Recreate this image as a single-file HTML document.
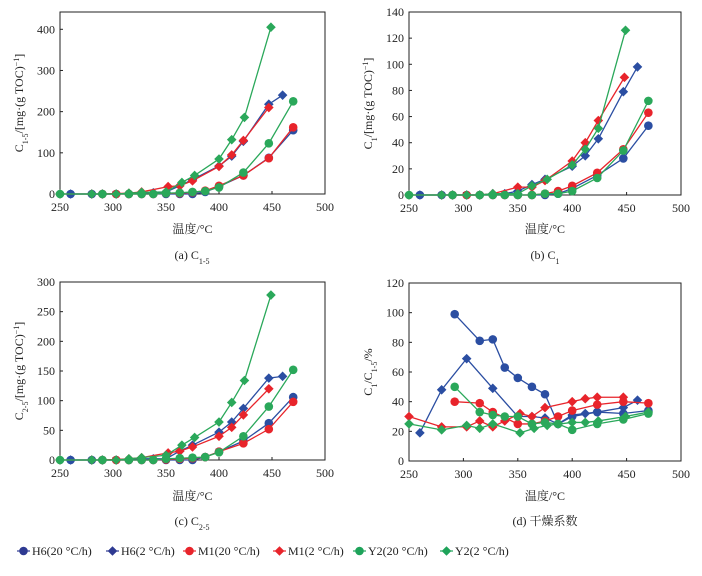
<!DOCTYPE html>
<html><head><meta charset="utf-8"><style>
html,body{margin:0;padding:0;background:#fff;}
svg{display:block;font-family:"Liberation Serif","Noto Serif CJK SC",serif;}
</style></head><body>
<svg id="fig" width="702" height="576" viewBox="0 0 702 576"></svg>
<script>
// Shared x-axis temperatures
const xTicks = [250,300,350,400,450,500];
// Panel (a) C1-5
const aH6c = [[260,0],[280,0],[290,0],[303,0],[315,0],[327,0],[338,0],[350,0],[363,0],[375,0],[387,5],[400,18],[423,45],[447,88],[470,155]];
const aH6d = [[260,0],[280,0],[290,0],[303,0],[315,1],[327,2],[338,3],[350,5],[363,20],[375,35],[400,68],[412,92],[423,128],[447,218],[460,240]];
const aM1c = [[290,0],[303,0],[315,0],[327,0],[338,0],[350,2],[363,2],[375,4],[387,8],[400,20],[423,45],[447,87],[470,162]];
const aM1d = [[250,0],[280,0],[290,0],[315,2],[327,5],[352,18],[363,20],[375,32],[400,67],[412,95],[423,130],[447,210]];
const aY2c = [[250,0],[290,0],[315,0],[327,0],[338,0],[350,2],[363,3],[375,5],[387,7],[400,16],[423,52],[447,123],[470,225]];
const aY2d = [[250,0],[280,0],[290,0],[303,0],[315,2],[327,4],[350,5],[365,28],[377,45],[400,85],[412,132],[424,186],[449,405]];
const aTicks = [0,100,200,300,400];
// Panel (b) C1
const bH6c = [[260,0],[280,0],[290,0],[303,0],[315,0],[327,0],[338,0],[350,0],[363,0],[375,0],[387,1],[400,5],[423,15],[447,28],[470,53]];
const bH6d = [[260,0],[280,0],[290,0],[303,0],[315,0],[327,1],[338,1],[350,3],[363,8],[375,12],[400,22],[412,30],[424,43],[447,79],[460,98]];
const bM1c = [[290,0],[303,0],[315,0],[327,0],[338,0],[350,0],[363,0],[375,1],[387,3],[400,7],[423,17],[447,35],[470,63]];
const bM1d = [[250,0],[280,0],[290,0],[315,0],[327,1],[350,6],[363,6],[375,11],[400,26],[412,40],[424,57],[448,90]];
const bY2c = [[250,0],[290,0],[315,0],[327,0],[338,0],[350,0],[363,0],[375,1],[387,1],[400,3],[423,13],[447,34],[470,72]];
const bY2d = [[250,0],[280,0],[290,0],[303,0],[315,0],[327,1],[350,1],[363,7],[377,12],[400,23],[412,35],[424,51],[449,126]];
const bTicks = [0,20,40,60,80,100,120,140];
// Panel (c) C2-5
const cH6c = [[260,0],[280,0],[290,0],[303,0],[315,0],[327,0],[338,0],[350,0],[363,0],[375,0],[387,5],[400,14],[423,32],[447,62],[470,106]];
const cH6d = [[260,0],[280,0],[290,0],[303,0],[315,1],[327,2],[338,2],[350,2],[363,15],[375,25],[400,47],[412,64],[423,87],[447,138],[460,141]];
const cM1c = [[290,0],[303,0],[315,0],[327,0],[338,0],[350,1],[363,2],[375,3],[387,5],[400,14],[423,28],[447,52],[470,98]];
const cM1d = [[250,0],[280,0],[290,0],[315,2],[327,4],[352,12],[363,15],[375,22],[400,40],[412,55],[423,76],[447,120]];
const cY2c = [[250,0],[290,0],[315,0],[327,0],[338,0],[350,2],[363,3],[375,4],[387,5],[400,13],[423,40],[447,90],[470,152]];
const cY2d = [[250,0],[280,0],[290,0],[303,0],[315,2],[327,4],[350,8],[365,25],[377,38],[400,64],[412,97],[424,134],[449,278]];
const cTicks = [0,50,100,150,200,250,300];
// Panel (d) C1/C1-5
const dH6c = [[292,99],[315,81],[327,82],[338,63],[350,56],[363,50],[375,45],[387,25],[400,30],[423,33],[447,32],[470,34]];
const dH6d = [[260,19],[280,48],[303,69],[327,49],[350,30],[363,30],[375,29],[387,25],[400,31],[412,32],[423,33],[447,36],[460,41]];
const dM1c = [[292,40],[315,39],[327,33],[350,25],[363,25],[375,27],[387,30],[400,34],[423,38],[447,40],[470,39]];
const dM1d = [[250,30],[280,23],[303,23],[315,27],[327,23],[338,27],[352,32],[363,30],[375,36],[400,40],[412,42],[423,43],[447,43]];
const dY2c = [[292,50],[315,33],[327,31],[338,30],[350,30],[363,25],[375,26],[387,25],[400,21],[423,25],[447,28],[470,32]];
const dY2d = [[250,25],[280,21],[303,24],[315,22],[327,25],[352,19],[365,22],[377,24],[400,26],[412,26],[424,27],[449,30],[470,33]];
const dTicks = [0,20,40,60,80,100,120];
const legendLabels = ["H6(20 °C/h)","H6(2 °C/h)","M1(20 °C/h)","M1(2 °C/h)","Y2(20 °C/h)","Y2(2 °C/h)"];

const BLUE="#2b4ea2", RED="#e8242b", GREEN="#2aa85a";
const NS="http://www.w3.org/2000/svg";
const svg=document.getElementById('fig');
function mk(tag,attrs,parent){const e=document.createElementNS(NS,tag);for(const k in attrs)e.setAttribute(k,attrs[k]);(parent||svg).appendChild(e);return e;}
function marker(g,x,y,shape,color){
  let m;
  if(shape==='c'){m=mk('circle',{cx:x,cy:y,r:4.3,fill:color},g);}
  else{const s=4.8;m=mk('polygon',{points:`${x},${y-s} ${x+s},${y} ${x},${y+s} ${x-s},${y}`,fill:color},g);}
  return m;
}
function panel(id,L,R,T,B,ymax,ticks,series,ylabelHtml,xlabelY,caption,capY,capX){
  const g=mk('g',{});
  
  
  const xs=v=>L+(v-250)/250*(R-L);
  const ys=v=>B-v/ymax*(B-T);
  const box=mk('rect',{x:L,y:T,width:R-L,height:B-T,fill:'none',stroke:'#222','stroke-width':1},g);
  
  
  xTicks.forEach(t=>{
    const x=xs(t);
    mk('line',{x1:x,x2:x,y1:B,y2:B-3,stroke:'#222'},g);
    const tx=mk('text',{x:x,y:B+17,'text-anchor':'middle','font-size':12,fill:'#222'},g);
    tx.textContent=t;
    
    
  });
  ticks.forEach(t=>{
    const y=ys(t);
    mk('line',{x1:L,x2:L+3,y1:y,y2:y,stroke:'#222'},g);
    const tx=mk('text',{x:L-5,y:y+4,'text-anchor':'end','font-size':12,fill:'#222'},g);
    tx.textContent=t;
    
    
  });
  series.forEach(([data,shape,color,name])=>{
    const sg=mk('g',{},g);
    
    
    mk('polyline',{points:data.map(p=>xs(p[0])+','+ys(p[1])).join(' '),fill:'none',stroke:color,'stroke-width':1.3},sg);
    data.forEach(p=>{const m=marker(sg,xs(p[0]),ys(p[1]),shape,color);
      
      });
  });
  const xl=mk('text',{x:(L+R)/2,y:xlabelY,'text-anchor':'middle','font-size':12,fill:'#222'},g);
  xl.textContent='温度/°C';
  
  
  const yl=mk('text',{x:0,y:0,'text-anchor':'middle','font-size':12,fill:'#222',transform:`translate(${L-37},${(T+B)/2}) rotate(-90)`},g);
  yl.innerHTML=ylabelHtml;
  
  
  const cp=mk('text',{x:capX,y:capY,'text-anchor':'middle','font-size':12,fill:'#222'},g);
  cp.innerHTML=caption;
  
  
}
function S(h6c,h6d,m1c,m1d,y2c,y2d){return [[h6c,'c',BLUE,'h6-20'],[h6d,'d',BLUE,'h6-2'],[m1c,'c',RED,'m1-20'],[m1d,'d',RED,'m1-2'],[y2c,'c',GREEN,'y2-20'],[y2d,'d',GREEN,'y2-2']];}
const unit='/[mg·(g TOC)<tspan baseline-shift="super" font-size="8">−1</tspan>]';
panel('a',60,325,12,194,442,aTicks,S(aH6c,aH6d,aM1c,aM1d,aY2c,aY2d),'C<tspan baseline-shift="sub" font-size="8">1-5</tspan>'+unit,233,'(a) C<tspan baseline-shift="sub" font-size="8">1-5</tspan>',259,192);
panel('b',409,681,12,195,140,bTicks,S(bH6c,bH6d,bM1c,bM1d,bY2c,bY2d),'C<tspan baseline-shift="sub" font-size="8">1</tspan>'+unit,233,'(b) C<tspan baseline-shift="sub" font-size="8">1</tspan>',259,545);
panel('c',60,325,282,460,300,cTicks,S(cH6c,cH6d,cM1c,cM1d,cY2c,cY2d),'C<tspan baseline-shift="sub" font-size="8">2-5</tspan>'+unit,500,'(c) C<tspan baseline-shift="sub" font-size="8">2-5</tspan>',525,192);
panel('d',409,681,283,461,120,dTicks,S(dH6c,dH6d,dM1c,dM1d,dY2c,dY2d),'C<tspan baseline-shift="sub" font-size="8">1</tspan>/C<tspan baseline-shift="sub" font-size="8">1-5</tspan>/%',500,'(d) 干燥系数',525,545);
// legend
const lg=mk('g',{});


const lx=[17,106,183,273,353,440];
const lshape=['c','d','c','d','c','d'];
const lcol=["#2e3a92","#2e3a92",RED,RED,"#1ea35a","#1ea35a"];
legendLabels.forEach((t,i)=>{
  const eg=mk('g',{},lg);
  
  
  mk('line',{x1:lx[i],x2:lx[i]+13,y1:551,y2:551,stroke:lcol[i],'stroke-width':1.2},eg);
  marker(eg,lx[i]+6.5,551,lshape[i],lcol[i]);
  const tx=mk('text',{x:lx[i]+15,y:555,'font-size':12,fill:'#222'},eg);
  tx.textContent=t;
});
</script>
</body></html>
